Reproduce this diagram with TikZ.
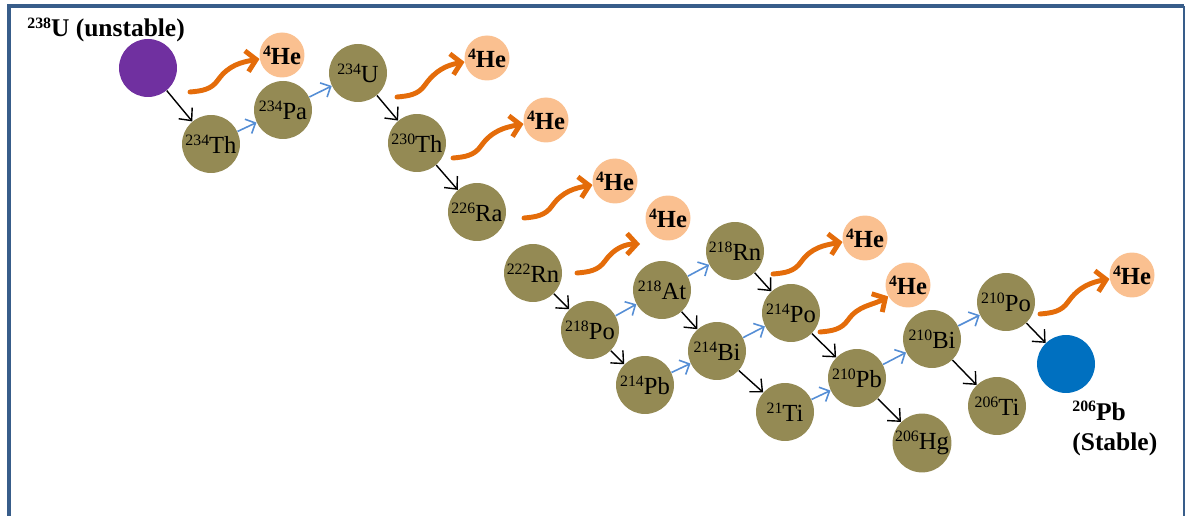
\documentclass[tikz,border=0pt]{standalone}
\usepackage{fontspec}
\setmainfont{Liberation Serif}
\usetikzlibrary{arrows.meta}
\definecolor{nucolive}{HTML}{948A54}
\definecolor{hepeach}{HTML}{FAC090}
\definecolor{emitorange}{HTML}{E46C0A}
\definecolor{betablue}{HTML}{558ED5}
\definecolor{uviolet}{HTML}{7030A0}
\definecolor{pbblue}{HTML}{0070C0}
\definecolor{frameblue}{HTML}{385D8A}
\newcommand{\iso}[2]{\raisebox{0.33em}{\fontsize{9}{10}\selectfont #1}#2}

\begin{document}
\begin{tikzpicture}[x=0.02cm, y=0.02cm,
  nuc/.style={circle, fill=nucolive, minimum size=1.16cm, inner sep=0pt,
    font=\fontsize{14}{16}\selectfont},
  he/.style={circle, fill=hepeach, minimum size=0.9cm, inner sep=0pt,
    font=\bfseries\fontsize{14}{16}\selectfont},
  adecay/.style={-{Straight Barb[length=5.5pt,width=10pt]}, line width=0.8pt, black},
  bdecay/.style={-{Straight Barb[length=4.5pt,width=9pt]}, line width=0.9pt, betablue},
  emit/.style={-{Straight Barb[length=5.5pt,width=12pt]}, line width=2.8pt,
    emitorange, line cap=round}]
  \useasboundingbox (0,0) rectangle (1186,-516);
  % Frame
  \draw[frameblue, line width=2pt] (9,-516) -- (9,-6) -- (1184,-6);
  \draw[frameblue, line width=0.9pt] (1184,-6) -- (1184,-516);
  % Decay chain
  \node[nuc, fill=uviolet] (u238) at (148,-68) {};
  \node[nuc] (th234) at (211,-144) {\iso{234}{Th}};
  \node[nuc] (pa234) at (283,-110) {\iso{234}{Pa}};
  \node[nuc] (u234) at (358,-73) {\iso{234}{U}};
  \node[nuc] (th230) at (417,-143) {\iso{230}{Th}};
  \node[nuc] (ra226) at (477,-212) {\iso{226}{Ra}};
  \node[nuc] (rn222) at (533,-273) {\iso{222}{Rn}};
  \node[nuc] (po218) at (590,-330) {\iso{218}{Po}};
  \node[nuc] (at218) at (662,-290) {\iso{218}{At}};
  \node[nuc] (pb214) at (645,-385) {\iso{214}{Pb}};
  \node[nuc] (rn218) at (735,-251) {\iso{218}{Rn}};
  \node[nuc] (bi214) at (717,-351) {\iso{214}{Bi}};
  \node[nuc] (po214) at (791,-313) {\iso{214}{Po}};
  \node[nuc] (ti21) at (785,-412) {\iso{21}{Ti}};
  \node[nuc] (pb210) at (857,-378) {\iso{210}{Pb}};
  \node[nuc] (hg206) at (922,-443) {\iso{206}{Hg}};
  \node[nuc] (bi210) at (932,-339) {\iso{210}{Bi}};
  \node[nuc] (ti206) at (997,-406) {\iso{206}{Ti}};
  \node[nuc] (po210) at (1006,-302) {\iso{210}{Po}};
  \node[nuc, fill=pbblue] (pb206) at (1066,-364) {};
  % Alpha particles
  \node[he] (he1) at (282,-55) {\iso{4}{He}};
  \node[he] (he2) at (487,-58) {\iso{4}{He}};
  \node[he] (he3) at (546,-120) {\iso{4}{He}};
  \node[he] (he4) at (615,-181) {\iso{4}{He}};
  \node[he] (he5) at (668,-218) {\iso{4}{He}};
  \node[he] (he6) at (865,-238) {\iso{4}{He}};
  \node[he] (he7) at (908,-285) {\iso{4}{He}};
  \node[he] (he8) at (1132,-275) {\iso{4}{He}};
  % Labels
  \node[font=\bfseries\fontsize{14.5}{17}\selectfont, anchor=base west, inner sep=0pt]
    (u238lbl) at (27,-37) {\iso{238}{U (unstable)}};
  \node[font=\bfseries\fontsize{14.5}{17}\selectfont, anchor=north west, align=left,
    inner sep=0pt] (pb206lbl) at (1072,-401) {\iso{206}{Pb}\\(Stable)};
  % Alpha steps
  \foreach \a/\b in {u238/th234, u234/th230, th230/ra226, rn222/po218, po218/pb214,
      at218/bi214, bi214/ti21, rn218/po214, po214/pb210, pb210/hg206, bi210/ti206,
      po210/pb206}
    \draw[adecay] (\a) -- (\b);
  % Beta steps
  \foreach \a/\b in {th234/pa234, pa234/u234, po218/at218, at218/rn218, pb214/bi214,
      bi214/po214, ti21/pb210, pb210/bi210, bi210/po210}
    \draw[bdecay] (\a) -- (\b);
  % Emitted helium
  \coordinate (e1) at (190,-92);
  \coordinate (e2) at (397,-97);
  \coordinate (e3) at (453,-158);
  \coordinate (e4) at (524,-218);
  \coordinate (e5) at (577,-273);
  \coordinate (e6) at (773,-274);
  \coordinate (e7) at (820,-332);
  \coordinate (e8) at (1040,-314);
  \coordinate (t5) at (640,-244);
  \foreach \s/\t/\i in {e1/he1/190, e2/he2/190, e3/he3/190, e4/he4/190, e5/t5/180,
      e6/he6/190, e7/he7/210, e8/he8/190}
    \draw[emit] (\s) to[out=5,in=235] ++(28,12) to[out=55,in=\i] (\t);
\end{tikzpicture}
\end{document}
